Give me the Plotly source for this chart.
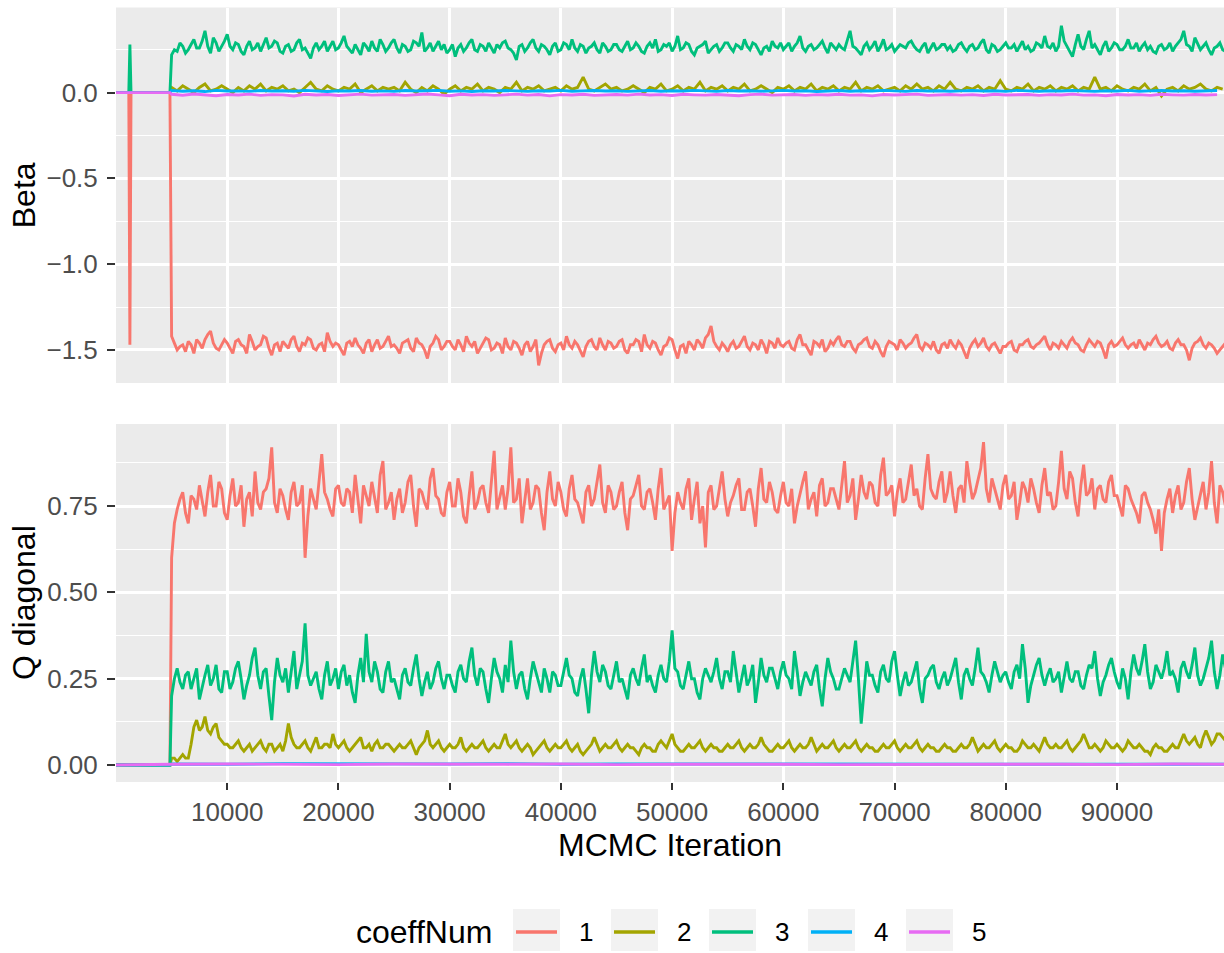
import plotly.graph_objects as go

W, H = 1224, 953

# ---------------- data ----------------
coeff_names = ["1", "2", "3", "4", "5"]
colors = ["#F8766D", "#A3A500", "#00BF7D", "#00B0F6", "#E76BF3"]

burn_iter = [1, 1150, 1250, 1350, 4850]
main_iter = burn_iter + list(range(5000, 100000, 500))   # burn-in + draws every 500
mid_iter = list(range(5250, 100000, 500))                 # draws halfway between
b45_iter = [1, 4850] + list(range(5000, 100000, 1000))
q45_iter = [1, 4850] + list(range(5000, 100001, 5000))

beta1 = [0.0, 0.0, -1.47, 0.0, 0.0,
    -1.42, -1.50, -1.47, -1.45, -1.52, -1.46, -1.44, -1.39, -1.49, -1.47,
    -1.46, -1.52, -1.44, -1.48, -1.41, -1.50, -1.47, -1.43, -1.53, -1.46,
    -1.45, -1.49, -1.42, -1.51, -1.47, -1.44, -1.50, -1.46, -1.40, -1.48,
    -1.47, -1.53, -1.45, -1.43, -1.49, -1.46, -1.51, -1.44, -1.48, -1.42,
    -1.47, -1.52, -1.45, -1.49, -1.43, -1.47, -1.55, -1.46, -1.44, -1.48,
    -1.45, -1.50, -1.47, -1.42, -1.48, -1.52, -1.46, -1.44, -1.49, -1.47,
    -1.43, -1.50, -1.46, -1.53, -1.45, -1.48, -1.59, -1.47, -1.44, -1.51,
    -1.46, -1.42, -1.49, -1.47, -1.54, -1.45, -1.48, -1.43, -1.50, -1.46,
    -1.48, -1.44, -1.52, -1.47, -1.45, -1.41, -1.49, -1.46, -1.53, -1.47,
    -1.44, -1.55, -1.47, -1.45, -1.50, -1.46, -1.43, -1.36, -1.48, -1.46,
    -1.51, -1.45, -1.48, -1.42, -1.50, -1.47, -1.44, -1.52, -1.46, -1.43,
    -1.48, -1.45, -1.50, -1.41, -1.47, -1.53, -1.46, -1.44, -1.49, -1.47,
    -1.42, -1.48, -1.45, -1.51, -1.46, -1.43, -1.49, -1.47, -1.54, -1.45,
    -1.47, -1.44, -1.49, -1.46, -1.41, -1.50, -1.47, -1.45, -1.52, -1.46,
    -1.44, -1.49, -1.47, -1.55, -1.46, -1.48, -1.43, -1.50, -1.46, -1.52,
    -1.48, -1.45, -1.51, -1.47, -1.44, -1.49, -1.46, -1.42, -1.50, -1.47,
    -1.45, -1.49, -1.43, -1.47, -1.51, -1.44, -1.48, -1.46, -1.55, -1.45,
    -1.47, -1.43, -1.49, -1.46, -1.44, -1.50, -1.47, -1.42, -1.48, -1.45,
    -1.50, -1.44, -1.47, -1.56, -1.46, -1.43, -1.49, -1.47, -1.52, -1.48]
beta1_mid = [
    -1.46, -1.48, -1.51, -1.47, -1.44, -1.49, -1.41, -1.46, -1.50, -1.44,
    -1.49, -1.45, -1.47, -1.52, -1.45, -1.48, -1.42, -1.49, -1.47, -1.51,
    -1.47, -1.44, -1.48, -1.46, -1.43, -1.49, -1.47, -1.51, -1.45, -1.46,
    -1.50, -1.46, -1.48, -1.47, -1.52, -1.44, -1.47, -1.49, -1.45, -1.48,
    -1.49, -1.46, -1.44, -1.51, -1.46, -1.50, -1.48, -1.42, -1.50, -1.45,
    -1.48, -1.44, -1.51, -1.46, -1.45, -1.49, -1.43, -1.50, -1.46, -1.52,
    -1.48, -1.45, -1.49, -1.47, -1.51, -1.44, -1.52, -1.45, -1.49, -1.47,
    -1.50, -1.47, -1.45, -1.51, -1.48, -1.44, -1.50, -1.47, -1.45, -1.49,
    -1.45, -1.50, -1.47, -1.44, -1.51, -1.47, -1.45, -1.50, -1.48, -1.43,
    -1.50, -1.48, -1.52, -1.47, -1.44, -1.49, -1.41, -1.45, -1.50, -1.48,
    -1.47, -1.49, -1.45, -1.48, -1.46, -1.50, -1.47, -1.45, -1.49, -1.47,
    -1.46, -1.49, -1.44, -1.47, -1.50, -1.45, -1.48, -1.51, -1.45, -1.44,
    -1.47, -1.45, -1.49, -1.47, -1.44, -1.48, -1.45, -1.51, -1.48, -1.46,
    -1.50, -1.46, -1.47, -1.43, -1.48, -1.46, -1.49, -1.50, -1.47, -1.49,
    -1.47, -1.45, -1.51, -1.49, -1.44, -1.46, -1.48, -1.47, -1.49, -1.48,
    -1.46, -1.50, -1.47, -1.45, -1.48, -1.47, -1.44, -1.47, -1.46, -1.49,
    -1.47, -1.45, -1.46, -1.50, -1.47, -1.46, -1.45, -1.50, -1.47, -1.48,
    -1.45, -1.47, -1.47, -1.49, -1.47, -1.46, -1.44, -1.46, -1.47, -1.49,
    -1.46, -1.47, -1.50, -1.49, -1.45, -1.47, -1.46, -1.49, -1.50, -1.46]

beta2 = [0.0, 0.0, 0.0, 0.0, 0.0,
    0.03, 0.01, 0.04, 0.02, 0.00, 0.03, 0.05, 0.01, 0.02, 0.04,
    0.02, 0.00, 0.03, 0.01, 0.04, 0.02, 0.05, 0.01, 0.03, 0.02,
    0.04, 0.01, 0.02, 0.00, 0.03, 0.06, 0.02, 0.01, 0.04, 0.02,
    0.01, 0.03, 0.02, 0.05, 0.00, 0.02, 0.04, 0.01, 0.03, 0.02,
    0.03, 0.01, 0.06, 0.02, 0.00, 0.03, 0.01, 0.04, 0.02, -0.01,
    0.02, 0.04, 0.01, 0.03, 0.02, 0.05, 0.01, 0.03, 0.02, 0.00,
    0.03, 0.02, 0.06, 0.01, 0.03, 0.02, 0.04, 0.01, 0.02, 0.03,
    0.01, 0.04, 0.02, 0.03, 0.09, 0.02, 0.01, 0.03, 0.05, 0.02,
    0.03, 0.01, 0.02, 0.04, 0.02, 0.00, 0.03, 0.02, 0.05, 0.01,
    0.02, 0.04, 0.01, 0.03, 0.02, 0.06, 0.01, 0.03, 0.02, 0.04,
    0.01, 0.03, 0.02, 0.05, 0.01, 0.02, 0.04, 0.02, 0.00, 0.03,
    0.02, 0.04, 0.01, 0.03, 0.02, 0.05, 0.01, 0.03, 0.02, 0.04,
    0.01, 0.03, 0.02, 0.06, 0.01, 0.03, 0.02, 0.04, 0.01, 0.02,
    0.03, 0.01, 0.04, 0.02, 0.05, 0.02, 0.03, 0.01, 0.04, 0.02,
    0.06, 0.02, 0.01, 0.03, 0.02, 0.04, 0.01, 0.03, 0.02, 0.07,
    0.02, 0.01, 0.03, 0.02, 0.05, 0.01, 0.03, 0.02, 0.04, 0.01,
    0.03, 0.02, 0.04, 0.01, 0.03, 0.02, 0.09, 0.02, 0.03, 0.01,
    0.04, 0.02, 0.01, 0.03, 0.02, 0.05, 0.01, 0.03, -0.02, 0.02,
    0.03, 0.01, 0.04, 0.02, 0.03, 0.05, 0.02, 0.01, 0.03, 0.02]

beta3 = [0.0, 0.0, 0.28, 0.0, 0.0,
    0.22, 0.24, 0.27, 0.25, 0.31, 0.26, 0.36, 0.23, 0.29, 0.27,
    0.34, 0.25, 0.28, 0.22, 0.30, 0.26, 0.24, 0.32, 0.27, 0.29,
    0.23, 0.28, 0.25, 0.31, 0.26, 0.20, 0.29, 0.27, 0.24, 0.30,
    0.26, 0.33, 0.25, 0.28, 0.22, 0.27, 0.30, 0.24, 0.28, 0.26,
    0.31, 0.23, 0.27, 0.25, 0.29, 0.35, 0.26, 0.24, 0.30, 0.28,
    0.25, 0.21, 0.28, 0.26, 0.31, 0.24, 0.27, 0.29, 0.23, 0.26,
    0.30, 0.25, 0.19, 0.28, 0.26, 0.31, 0.24, 0.27, 0.22, 0.29,
    0.25, 0.28, 0.31, 0.24, 0.27, 0.26, 0.29, 0.23, 0.27, 0.25,
    0.28, 0.24, 0.30, 0.26, 0.27, 0.23, 0.29, 0.31, 0.25, 0.27,
    0.24, 0.33, 0.26, 0.28, 0.22, 0.27, 0.30, 0.25, 0.28, 0.26,
    0.29, 0.24, 0.27, 0.31, 0.25, 0.28, 0.22, 0.27, 0.30, 0.26,
    0.25, 0.29, 0.27, 0.33, 0.24, 0.28, 0.26, 0.30, 0.23, 0.27,
    0.28, 0.25, 0.36, 0.26, 0.22, 0.29, 0.27, 0.24, 0.31, 0.26,
    0.24, 0.28, 0.26, 0.30, 0.25, 0.27, 0.23, 0.29, 0.26, 0.28,
    0.27, 0.25, 0.29, 0.24, 0.28, 0.26, 0.31, 0.23, 0.27, 0.25,
    0.29, 0.26, 0.24, 0.30, 0.27, 0.25, 0.28, 0.33, 0.26, 0.24,
    0.39, 0.27, 0.21, 0.34, 0.25, 0.36, 0.28, 0.22, 0.30, 0.26,
    0.28, 0.25, 0.31, 0.26, 0.24, 0.29, 0.27, 0.23, 0.28, 0.26,
    0.24, 0.29, 0.36, 0.27, 0.32, 0.25, 0.29, 0.22, 0.27, 0.25]
beta3_mid = [
    0.25, 0.29, 0.23, 0.28, 0.26, 0.30, 0.27, 0.32, 0.24, 0.30,
    0.27, 0.29, 0.24, 0.27, 0.25, 0.29, 0.28, 0.26, 0.30, 0.24,
    0.27, 0.24, 0.29, 0.25, 0.23, 0.26, 0.25, 0.30, 0.27, 0.25,
    0.29, 0.27, 0.23, 0.25, 0.29, 0.24, 0.26, 0.31, 0.24, 0.29,
    0.26, 0.28, 0.24, 0.30, 0.27, 0.24, 0.29, 0.27, 0.25, 0.23,
    0.28, 0.26, 0.24, 0.29, 0.25, 0.28, 0.24, 0.26, 0.28, 0.29,
    0.26, 0.23, 0.27, 0.24, 0.29, 0.26, 0.28, 0.25, 0.27, 0.24,
    0.29, 0.25, 0.26, 0.28, 0.23, 0.27, 0.25, 0.29, 0.24, 0.28,
    0.25, 0.27, 0.25, 0.29, 0.24, 0.27, 0.26, 0.24, 0.28, 0.29,
    0.27, 0.25, 0.29, 0.24, 0.26, 0.28, 0.23, 0.27, 0.24, 0.29,
    0.26, 0.28, 0.25, 0.27, 0.29, 0.25, 0.26, 0.24, 0.27, 0.29,
    0.27, 0.24, 0.29, 0.26, 0.27, 0.25, 0.28, 0.26, 0.29, 0.25,
    0.26, 0.30, 0.27, 0.24, 0.27, 0.25, 0.30, 0.27, 0.25, 0.28,
    0.26, 0.27, 0.29, 0.27, 0.24, 0.29, 0.26, 0.25, 0.28, 0.25,
    0.24, 0.28, 0.26, 0.27, 0.25, 0.29, 0.25, 0.28, 0.24, 0.27,
    0.26, 0.28, 0.27, 0.25, 0.24, 0.29, 0.26, 0.27, 0.29, 0.27,
    0.30, 0.24, 0.28, 0.27, 0.31, 0.26, 0.25, 0.27, 0.24, 0.29,
    0.25, 0.27, 0.26, 0.29, 0.27, 0.25, 0.24, 0.27, 0.25, 0.29,
    0.27, 0.31, 0.28, 0.24, 0.28, 0.27, 0.25, 0.26, 0.29, 0.24]

beta4 = [0.0, 0.0,
    0.012, 0.008, 0.011, 0.006, 0.013, 0.009, 0.010, 0.007, 0.012, 0.009,
    0.011, 0.008, 0.013, 0.010, 0.006, 0.011, 0.009, 0.012, 0.008, 0.010,
    0.007, 0.012, 0.009, 0.011, 0.013, 0.008, 0.010, 0.006, 0.011, 0.009,
    0.012, 0.010, 0.007, 0.011, 0.009, 0.013, 0.008, 0.010, 0.012, 0.009,
    0.011, 0.007, 0.010, 0.012, 0.008, 0.011, 0.009, 0.013, 0.010, 0.007,
    0.012, 0.009, 0.011, 0.008, 0.010, 0.013, 0.009, 0.011, 0.006, 0.010,
    0.012, 0.008, 0.011, 0.009, 0.013, 0.010, 0.007, 0.012, 0.009, 0.011,
    0.008, 0.010, 0.012, 0.009, 0.011, 0.007, 0.013, 0.010, 0.008, 0.011,
    0.009, 0.012, 0.010, 0.007, 0.011, 0.009, 0.013, 0.008, 0.010, 0.012,
    0.009, 0.011, 0.008, 0.010, 0.012]

beta5 = [0.0, 0.0,
    -0.010, -0.015, -0.008, -0.013, -0.018, -0.011, -0.014, -0.009, -0.016, -0.012,
    -0.013, -0.020, -0.010, -0.014, -0.011, -0.017, -0.012, -0.009, -0.015, -0.013,
    -0.011, -0.016, -0.014, -0.008, -0.013, -0.018, -0.010, -0.014, -0.012, -0.016,
    -0.013, -0.009, -0.015, -0.011, -0.019, -0.012, -0.014, -0.010, -0.016, -0.013,
    -0.011, -0.015, -0.009, -0.014, -0.012, -0.017, -0.010, -0.013, -0.015, -0.011,
    -0.014, -0.018, -0.012, -0.009, -0.015, -0.013, -0.011, -0.016, -0.012, -0.014,
    -0.010, -0.015, -0.013, -0.019, -0.011, -0.014, -0.012, -0.009, -0.016, -0.013,
    -0.011, -0.015, -0.012, -0.017, -0.010, -0.014, -0.013, -0.011, -0.016, -0.012,
    -0.014, -0.009, -0.015, -0.013, -0.018, -0.011, -0.014, -0.012, -0.016, -0.010,
    -0.013, -0.015, -0.011, -0.014, -0.012]

q1 = [0.0, 0.0, 0.0, 0.0, 0.0,
    0.60, 0.74, 0.79, 0.70, 0.77, 0.81, 0.72, 0.84, 0.75, 0.80,
    0.71, 0.83, 0.76, 0.69, 0.79, 0.85, 0.74, 0.80, 0.92, 0.73,
    0.78, 0.71, 0.82, 0.76, 0.60, 0.80, 0.74, 0.90, 0.77, 0.72,
    0.81, 0.75, 0.79, 0.84, 0.70, 0.78, 0.82, 0.73, 0.88, 0.76,
    0.71, 0.80, 0.76, 0.84, 0.69, 0.79, 0.74, 0.86, 0.77, 0.72,
    0.82, 0.75, 0.79, 0.70, 0.85, 0.76, 0.81, 0.73, 0.91, 0.78,
    0.74, 0.92, 0.77, 0.70, 0.83, 0.76, 0.80, 0.68, 0.85, 0.75,
    0.79, 0.72, 0.84, 0.76, 0.70, 0.81, 0.77, 0.87, 0.73, 0.79,
    0.75, 0.82, 0.68, 0.78, 0.84, 0.74, 0.80, 0.71, 0.86, 0.76,
    0.62, 0.79, 0.74, 0.83, 0.77, 0.70, 0.63, 0.81, 0.75, 0.85,
    0.72, 0.78, 0.83, 0.74, 0.80, 0.69, 0.86, 0.76, 0.79, 0.73,
    0.82, 0.75, 0.70, 0.79, 0.85, 0.77, 0.72, 0.83, 0.76, 0.80,
    0.74, 0.88, 0.78, 0.71, 0.84, 0.77, 0.81, 0.75, 0.89, 0.79,
    0.72, 0.83, 0.77, 0.87, 0.80, 0.74, 0.90, 0.78, 0.82, 0.76,
    0.85, 0.73, 0.81, 0.88, 0.77, 0.83, 0.935, 0.76, 0.80, 0.74,
    0.84, 0.78, 0.71, 0.82, 0.76, 0.80, 0.73, 0.86, 0.79, 0.75,
    0.91, 0.77, 0.83, 0.72, 0.87, 0.79, 0.74, 0.81, 0.76, 0.84,
    0.78, 0.72, 0.80, 0.75, 0.70, 0.79, 0.74, 0.67, 0.62, 0.77,
    0.73, 0.81, 0.76, 0.86, 0.71, 0.78, 0.74, 0.88, 0.70, 0.79]
q1_mid = [
    0.70, 0.77, 0.73, 0.78, 0.74, 0.76, 0.79, 0.75, 0.82, 0.73,
    0.78, 0.75, 0.81, 0.77, 0.72, 0.76, 0.79, 0.83, 0.76, 0.80,
    0.74, 0.79, 0.75, 0.81, 0.72, 0.77, 0.82, 0.79, 0.74, 0.80,
    0.76, 0.80, 0.73, 0.77, 0.81, 0.75, 0.78, 0.84, 0.74, 0.79,
    0.77, 0.73, 0.82, 0.75, 0.80, 0.76, 0.83, 0.78, 0.73, 0.79,
    0.75, 0.83, 0.72, 0.78, 0.74, 0.80, 0.76, 0.82, 0.74, 0.81,
    0.80, 0.76, 0.83, 0.77, 0.74, 0.81, 0.73, 0.79, 0.77, 0.82,
    0.74, 0.80, 0.77, 0.73, 0.79, 0.75, 0.82, 0.76, 0.81, 0.74,
    0.79, 0.73, 0.77, 0.81, 0.75, 0.79, 0.76, 0.80, 0.74, 0.78,
    0.73, 0.76, 0.80, 0.71, 0.82, 0.75, 0.79, 0.74, 0.80, 0.77,
    0.76, 0.81, 0.74, 0.79, 0.75, 0.80, 0.77, 0.82, 0.74, 0.78,
    0.76, 0.80, 0.75, 0.82, 0.74, 0.79, 0.81, 0.75, 0.80, 0.77,
    0.81, 0.76, 0.83, 0.77, 0.79, 0.82, 0.76, 0.84, 0.78, 0.81,
    0.79, 0.76, 0.82, 0.78, 0.75, 0.83, 0.80, 0.77, 0.85, 0.79,
    0.78, 0.80, 0.76, 0.82, 0.79, 0.86, 0.80, 0.83, 0.77, 0.81,
    0.77, 0.82, 0.76, 0.80, 0.83, 0.76, 0.81, 0.78, 0.74, 0.82,
    0.80, 0.85, 0.76, 0.81, 0.78, 0.83, 0.80, 0.77, 0.82, 0.78,
    0.75, 0.81, 0.77, 0.73, 0.78, 0.76, 0.71, 0.74, 0.73, 0.80,
    0.78, 0.74, 0.82, 0.77, 0.75, 0.82, 0.79, 0.76, 0.81, 0.75]

q2 = [0.0, 0.0, 0.0, 0.0, 0.0,
    0.02, 0.01, 0.03, 0.02, 0.11, 0.10, 0.14, 0.09, 0.12, 0.07,
    0.06, 0.05, 0.07, 0.04, 0.06, 0.05, 0.07, 0.04, 0.06, 0.05,
    0.04, 0.12, 0.06, 0.05, 0.07, 0.04, 0.08, 0.05, 0.06, 0.09,
    0.05, 0.07, 0.04, 0.06, 0.08, 0.05, 0.04, 0.07, 0.05, 0.06,
    0.04, 0.06, 0.05, 0.07, 0.03, 0.06, 0.10, 0.05, 0.07, 0.04,
    0.06, 0.05, 0.08, 0.04, 0.06, 0.05, 0.07, 0.04, 0.06, 0.05,
    0.09, 0.05, 0.07, 0.04, 0.06, 0.03, 0.05, 0.07, 0.04, 0.06,
    0.05, 0.07, 0.04, 0.06, 0.03, 0.05, 0.08, 0.04, 0.06, 0.05,
    0.07, 0.04, 0.06, 0.05, 0.03, 0.06, 0.05, 0.04, 0.07, 0.05,
    0.09, 0.05, 0.04, 0.06, 0.05, 0.07, 0.04, 0.06, 0.05, 0.04,
    0.06, 0.05, 0.07, 0.04, 0.06, 0.05, 0.08, 0.05, 0.04, 0.06,
    0.05, 0.07, 0.04, 0.06, 0.05, 0.08, 0.04, 0.06, 0.05, 0.07,
    0.04, 0.06, 0.05, 0.07, 0.04, 0.06, 0.05, 0.04, 0.06, 0.05,
    0.07, 0.04, 0.06, 0.05, 0.07, 0.04, 0.06, 0.05, 0.04, 0.06,
    0.05, 0.04, 0.06, 0.05, 0.08, 0.04, 0.06, 0.05, 0.07, 0.04,
    0.06, 0.05, 0.04, 0.07, 0.05, 0.06, 0.04, 0.08, 0.05, 0.06,
    0.05, 0.07, 0.04, 0.06, 0.09, 0.05, 0.06, 0.04, 0.07, 0.05,
    0.06, 0.04, 0.07, 0.05, 0.06, 0.04, 0.03, 0.06, 0.05, 0.04,
    0.06, 0.05, 0.09, 0.06, 0.08, 0.05, 0.10, 0.06, 0.09, 0.08]
q2_mid = [
    0.02, 0.02, 0.02, 0.06, 0.13, 0.11, 0.10, 0.11, 0.08, 0.06,
    0.05, 0.06, 0.05, 0.05, 0.04, 0.06, 0.05, 0.06, 0.04, 0.06,
    0.07, 0.08, 0.05, 0.06, 0.05, 0.06, 0.05, 0.06, 0.05, 0.06,
    0.06, 0.05, 0.05, 0.07, 0.05, 0.06, 0.06, 0.05, 0.06, 0.05,
    0.05, 0.05, 0.06, 0.05, 0.05, 0.07, 0.06, 0.06, 0.05, 0.05,
    0.05, 0.06, 0.05, 0.05, 0.05, 0.06, 0.05, 0.05, 0.05, 0.07,
    0.06, 0.06, 0.05, 0.05, 0.05, 0.04, 0.06, 0.05, 0.05, 0.05,
    0.06, 0.05, 0.05, 0.04, 0.04, 0.06, 0.06, 0.05, 0.05, 0.06,
    0.05, 0.05, 0.05, 0.04, 0.05, 0.05, 0.04, 0.06, 0.06, 0.07,
    0.06, 0.04, 0.05, 0.05, 0.06, 0.05, 0.05, 0.05, 0.04, 0.05,
    0.05, 0.06, 0.05, 0.05, 0.05, 0.06, 0.06, 0.04, 0.05, 0.05,
    0.06, 0.05, 0.05, 0.05, 0.06, 0.06, 0.05, 0.05, 0.06, 0.05,
    0.05, 0.05, 0.06, 0.05, 0.05, 0.05, 0.04, 0.05, 0.05, 0.06,
    0.05, 0.05, 0.05, 0.06, 0.05, 0.05, 0.05, 0.04, 0.05, 0.05,
    0.04, 0.05, 0.05, 0.06, 0.06, 0.05, 0.05, 0.06, 0.05, 0.05,
    0.05, 0.04, 0.05, 0.06, 0.05, 0.05, 0.06, 0.06, 0.05, 0.05,
    0.06, 0.05, 0.05, 0.07, 0.07, 0.05, 0.05, 0.05, 0.06, 0.05,
    0.05, 0.05, 0.06, 0.05, 0.05, 0.04, 0.05, 0.05, 0.04, 0.05,
    0.05, 0.07, 0.07, 0.07, 0.06, 0.08, 0.08, 0.07, 0.09, 0.07]

q3 = [0.0, 0.0, 0.0, 0.0, 0.0,
    0.20, 0.28, 0.22, 0.27, 0.25, 0.19, 0.26, 0.23, 0.29, 0.21,
    0.27, 0.24, 0.30, 0.19, 0.26, 0.34, 0.22, 0.28, 0.13, 0.31,
    0.24, 0.21, 0.33, 0.26, 0.41, 0.23, 0.27, 0.19, 0.30, 0.25,
    0.22, 0.29, 0.26, 0.18, 0.31, 0.38, 0.24, 0.27, 0.21, 0.30,
    0.25, 0.19, 0.28, 0.23, 0.32, 0.20, 0.27, 0.24, 0.30, 0.22,
    0.26, 0.21, 0.29, 0.24, 0.34, 0.23, 0.27, 0.18, 0.31, 0.25,
    0.29, 0.36, 0.22, 0.27, 0.19, 0.30, 0.24, 0.28, 0.21, 0.26,
    0.23, 0.31, 0.25, 0.20, 0.28, 0.15, 0.33, 0.24, 0.27, 0.22,
    0.30, 0.25, 0.19, 0.28, 0.23, 0.32, 0.26, 0.21, 0.29, 0.24,
    0.39, 0.27, 0.22, 0.30, 0.25, 0.19, 0.28, 0.24, 0.31, 0.22,
    0.27, 0.33, 0.21, 0.29, 0.25, 0.18, 0.31, 0.24, 0.28, 0.22,
    0.30, 0.25, 0.33, 0.20, 0.27, 0.23, 0.29, 0.17, 0.31, 0.25,
    0.22, 0.28, 0.24, 0.36, 0.12, 0.30, 0.26, 0.21, 0.29, 0.24,
    0.33, 0.20, 0.27, 0.24, 0.30, 0.18, 0.26, 0.29, 0.22, 0.27,
    0.25, 0.31, 0.19, 0.28, 0.23, 0.34, 0.26, 0.21, 0.30, 0.24,
    0.27, 0.22, 0.29, 0.35, 0.18, 0.26, 0.31, 0.23, 0.28, 0.25,
    0.21, 0.30, 0.24, 0.27, 0.22, 0.29, 0.33, 0.20, 0.26, 0.31,
    0.24, 0.28, 0.19, 0.32, 0.26, 0.35, 0.22, 0.29, 0.25, 0.33,
    0.27, 0.21, 0.30, 0.25, 0.34, 0.23, 0.28, 0.36, 0.22, 0.32]
q3_mid = [
    0.25, 0.24, 0.26, 0.22, 0.28, 0.23, 0.29, 0.25, 0.22, 0.27,
    0.22, 0.28, 0.25, 0.23, 0.31, 0.26, 0.27, 0.20, 0.24, 0.26,
    0.28, 0.27, 0.22, 0.30, 0.26, 0.25, 0.22, 0.26, 0.23, 0.28,
    0.27, 0.23, 0.21, 0.26, 0.24, 0.27, 0.30, 0.22, 0.27, 0.24,
    0.22, 0.26, 0.24, 0.28, 0.25, 0.24, 0.22, 0.28, 0.25, 0.26,
    0.23, 0.27, 0.25, 0.30, 0.26, 0.28, 0.22, 0.25, 0.27, 0.21,
    0.24, 0.27, 0.26, 0.22, 0.25, 0.27, 0.21, 0.25, 0.27, 0.23,
    0.27, 0.26, 0.21, 0.25, 0.22, 0.26, 0.27, 0.29, 0.23, 0.26,
    0.24, 0.22, 0.26, 0.25, 0.28, 0.24, 0.23, 0.26, 0.25, 0.30,
    0.28, 0.23, 0.26, 0.25, 0.21, 0.25, 0.26, 0.27, 0.25, 0.27,
    0.24, 0.27, 0.25, 0.23, 0.29, 0.24, 0.26, 0.28, 0.25, 0.27,
    0.26, 0.22, 0.27, 0.24, 0.25, 0.27, 0.22, 0.25, 0.27, 0.22,
    0.25, 0.26, 0.30, 0.25, 0.21, 0.26, 0.23, 0.27, 0.25, 0.30,
    0.26, 0.24, 0.23, 0.27, 0.22, 0.25, 0.28, 0.24, 0.25, 0.23,
    0.28, 0.24, 0.26, 0.25, 0.28, 0.27, 0.24, 0.26, 0.27, 0.26,
    0.24, 0.27, 0.25, 0.28, 0.23, 0.29, 0.26, 0.26, 0.24, 0.27,
    0.26, 0.25, 0.27, 0.23, 0.26, 0.28, 0.25, 0.24, 0.29, 0.27,
    0.22, 0.25, 0.27, 0.28, 0.30, 0.27, 0.24, 0.27, 0.28, 0.26,
    0.25, 0.28, 0.27, 0.29, 0.26, 0.25, 0.31, 0.27, 0.26, 0.28]

q4 = [0.0, 0.0,
    0.003, 0.002, 0.004, 0.003, 0.002, 0.003, 0.004, 0.002, 0.003, 0.003,
    0.002, 0.004, 0.003, 0.002, 0.003, 0.004, 0.002, 0.003, 0.003, 0.002]
q5 = [0.0, 0.0,
    0.002, 0.003, 0.002, 0.001, 0.003, 0.002, 0.002, 0.003, 0.001, 0.002,
    0.003, 0.002, 0.001, 0.002, 0.003, 0.002, 0.002, 0.001, 0.003, 0.002]

beta_ticks = [-1.5, -1.0, -0.5, 0.0]
beta_ticktext = ["\u22121.5", "\u22121.0", "\u22120.5", "0.0"]
beta_minor = [-1.25, -0.75, -0.25, 0.25]
q_ticks = [0.0, 0.25, 0.5, 0.75]
q_ticktext = ["0.00", "0.25", "0.50", "0.75"]
q_minor = [0.125, 0.375, 0.625, 0.875]
x_ticks = [10000, 20000, 30000, 40000, 50000, 60000, 70000, 80000, 90000]
x_ticktext = [str(v) for v in x_ticks]


def merge(vals, mid=None):
    """Combine the draws on the 500-step grid with the draws between them."""
    if mid is None:
        return main_iter, vals
    assert len(vals) == len(main_iter) and len(mid) == len(mid_iter)
    xs, ys = list(main_iter[:5]), list(vals[:5])
    for a, b, c, d in zip(main_iter[5:], vals[5:], mid_iter, mid):
        xs += [a, c]
        ys += [b, d]
    return xs, ys


beta_series = [merge(beta1, beta1_mid), merge(beta2), merge(beta3, beta3_mid),
               (b45_iter, beta4), (b45_iter, beta5)]
q_series = [merge(q1, q1_mid), merge(q2, q2_mid), merge(q3, q3_mid),
            (q45_iter, q4), (q45_iter, q5)]
for it, vals in beta_series + q_series:
    assert len(it) == len(vals), (len(it), len(vals))

# ---------------- layout helpers ----------------
FONT = "Liberation Sans, Arial, Helvetica, sans-serif"
def px(x):
    return x / W
def py(y):
    return 1 - y / H

PANEL_L, PANEL_R = 116, 1224
TOP_T, TOP_B = 7.5, 383
BOT_T, BOT_B = 424, 782
LW = 2.9

fig = go.Figure()
for i, (it, vals) in enumerate(beta_series):
    fig.add_trace(go.Scatter(x=it, y=vals, mode="lines", name=coeff_names[i],
                             line=dict(color=colors[i], width=LW),
                             xaxis="x", yaxis="y", showlegend=False))
for i, (it, vals) in enumerate(q_series):
    fig.add_trace(go.Scatter(x=it, y=vals, mode="lines", name=coeff_names[i],
                             line=dict(color=colors[i], width=LW),
                             xaxis="x2", yaxis="y2", showlegend=False))

grid_major = dict(showgrid=True, gridcolor="white", gridwidth=2.6)
tickfont = dict(family=FONT, size=26, color="#4D4D4D")

xcommon = dict(range=[0, 99620], domain=[px(PANEL_L), px(PANEL_R)],
               tickvals=x_ticks, ticktext=x_ticktext, zeroline=False,
               showline=False, **grid_major)
ycommon = dict(zeroline=False, showline=False, ticks="outside", ticklen=8,
               tickwidth=2.4, tickcolor="#333333", tickfont=tickfont,
               ticklabelstandoff=4, **grid_major)

fig.update_layout(
    width=W, height=H,
    margin=dict(l=0, r=0, t=0, b=0),
    paper_bgcolor="white", plot_bgcolor="#EBEBEB",
    xaxis=dict(anchor="y", showticklabels=False, ticks="", **xcommon),
    xaxis2=dict(anchor="y2", ticks="outside", ticklen=7, tickwidth=2.4,
                tickcolor="#333333", tickfont=tickfont, ticklabelstandoff=0,
                **xcommon),
    yaxis=dict(anchor="x", domain=[py(TOP_B), py(TOP_T)],
               range=[-1.6926, 0.496], tickvals=beta_ticks,
               ticktext=beta_ticktext,
               minor=dict(tickvals=beta_minor, showgrid=True,
                          gridcolor="white", gridwidth=1.3, ticks=""),
               **ycommon),
    yaxis2=dict(anchor="x2", domain=[py(BOT_B), py(BOT_T)],
                range=[-0.0492, 0.9875], tickvals=q_ticks,
                ticktext=q_ticktext,
                minor=dict(tickvals=q_minor, showgrid=True,
                           gridcolor="white", gridwidth=1.3, ticks=""),
                **ycommon),
    showlegend=False,
)

titlefont = dict(family=FONT, size=32, color="black")
annotations = [
    dict(text="Beta", x=px(24), y=py((TOP_T + TOP_B) / 2), textangle=-90),
    dict(text="Q diagonal", x=px(24), y=py((BOT_T + BOT_B) / 2), textangle=-90),
    dict(text="MCMC Iteration", x=px((PANEL_L + PANEL_R) / 2), y=py(845)),
]
for a in annotations:
    a.update(xref="paper", yref="paper", showarrow=False, font=titlefont,
             xanchor="center", yanchor="middle")

# ---------------- legend (ggplot-style, bottom) ----------------
LEG_Y = 932
key_left = [513, 611, 709, 808, 906]
KEY_W, KEY_T, KEY_B = 47, 909, 951
shapes = []
for i, kl in enumerate(key_left):
    shapes.append(dict(type="rect", xref="paper", yref="paper",
                       x0=px(kl), x1=px(kl + KEY_W), y0=py(KEY_B), y1=py(KEY_T),
                       fillcolor="#F2F2F2", line=dict(width=0), layer="above"))
    shapes.append(dict(type="line", xref="paper", yref="paper",
                       x0=px(kl + 3), x1=px(kl + KEY_W - 3),
                       y0=py(LEG_Y), y1=py(LEG_Y),
                       line=dict(color=colors[i], width=3.3), layer="above"))
    annotations.append(dict(text=coeff_names[i], x=px(kl + KEY_W + 17),
                            y=py(LEG_Y), xref="paper", yref="paper",
                            showarrow=False, xanchor="left", yanchor="middle",
                            font=dict(family=FONT, size=26, color="black")))
annotations.append(dict(text="coeffNum", x=px(354), y=py(LEG_Y),
                        xref="paper", yref="paper", showarrow=False,
                        xanchor="left", yanchor="middle", font=titlefont))

fig.update_layout(shapes=shapes, annotations=annotations)
fig.write_html("out.html")
